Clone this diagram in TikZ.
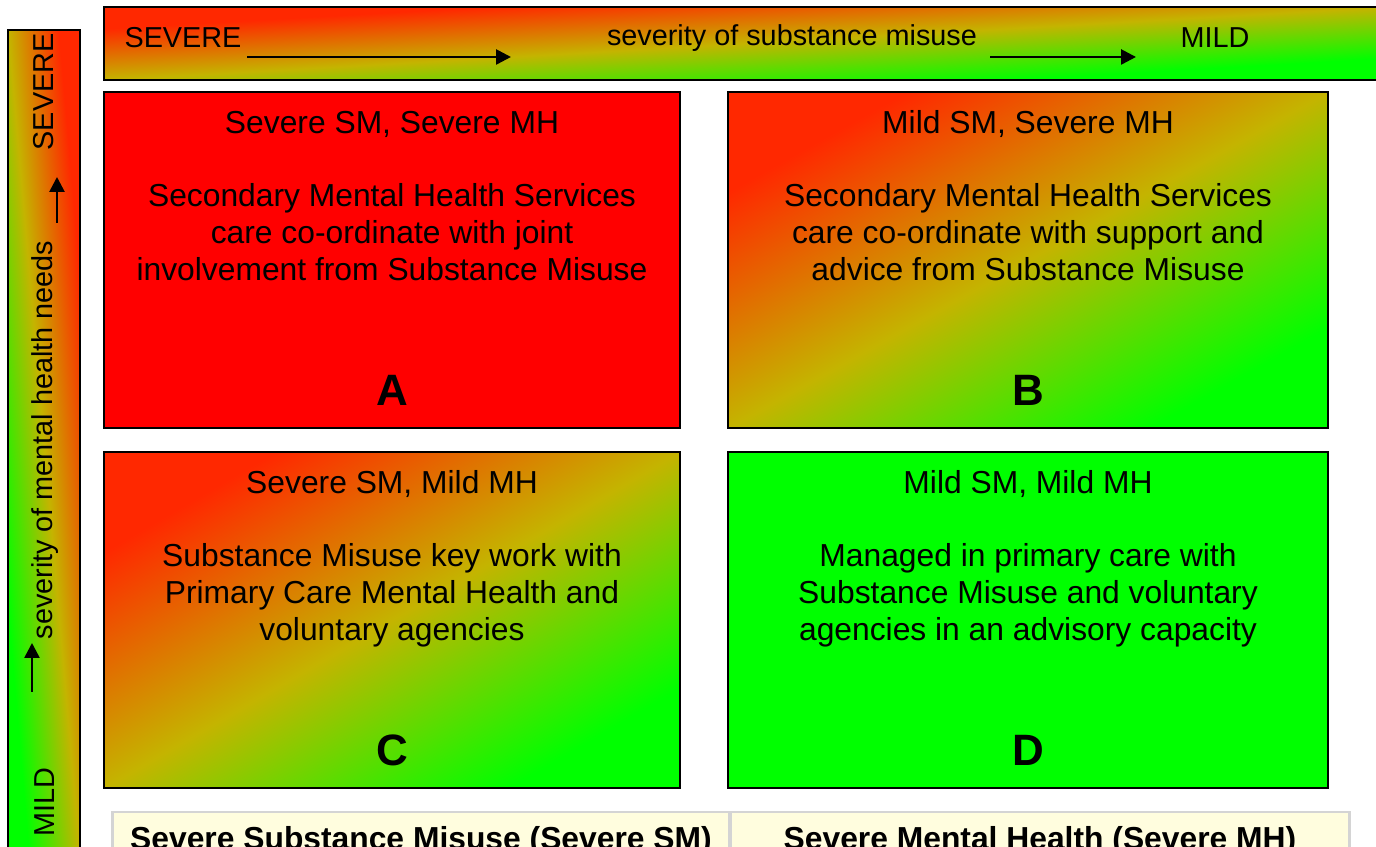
\documentclass[tikz,border=0pt]{standalone}
\usepackage{fontspec}
\setmainfont{Liberation Sans}
\usetikzlibrary{arrows.meta, positioning}

\definecolor{hotred}{RGB}{255,40,0}
\definecolor{midolive}{RGB}{196,180,0}
\definecolor{coolgreen}{RGB}{0,255,0}
\definecolor{keycream}{RGB}{255,253,222}
\definecolor{keyrule}{RGB}{212,212,212}

% red -> olive -> green, corner to corner
\pgfdeclarehorizontalshading{severity}{100bp}{color(0bp)=(coolgreen); color(25bp)=(coolgreen); color(50bp)=(midolive); color(75bp)=(hotred); color(100bp)=(hotred)}
\pgfdeclarelayer{background}
\pgfsetlayers{background,main}

% stretch a 1cm square of the shading over a node: node, width, height, angle
\newcommand{\severityshade}[4]{%
    \begin{pgfonlayer}{background}
        \begin{scope}[transform canvas={shift={(#1.south west)}, xscale=#2, yscale=#3}]
            \shade[shading=severity, shading angle=#4] (0cm,0cm) rectangle (1cm,1cm);
        \end{scope}
    \end{pgfonlayer}}

\tikzset{
    quad/.style={draw=black, line width=1.1pt, minimum height=6.72cm, inner sep=0pt, outer sep=0pt},
    bar/.style={draw=black, line width=1.1pt, inner sep=0pt, outer sep=0pt},
    head/.style={font=\fontsize{18.1}{21.7}\selectfont},
    body/.style={font=\fontsize{18.1}{21}\selectfont, align=center},
    letter/.style={font=\fontsize{25}{30}\selectfont\bfseries},
    axis/.style={font=\fontsize{16.4}{19}\selectfont, inner sep=0pt},
    scalearrow/.style={line width=1.5pt, -{Triangle[length=0.3cm,width=0.3cm]}},
    keycell/.style={draw=keyrule, line width=1.7pt, fill=keycream, minimum height=1.16cm, inner sep=0pt, font=\fontsize{18.1}{21.7}\selectfont\bfseries}
}

\begin{document}
\begin{tikzpicture}[x=0.02cm, y=0.02cm]
        \clip (0,0) rectangle (1376,847);

        % severity scales
        \node[bar, minimum width=25.62cm, minimum height=1.46cm] (smbar) at (744.5,803.5) {};
        \severityshade{smbar}{25.62}{1.46}{135}
        \node[bar, minimum width=1.44cm, minimum height=16.6cm] (mhbar) at (44,402) {};
        \severityshade{mhbar}{1.44}{16.6}{45}

        \node[axis] (sm_hi) at (183,809) {SEVERE};
        \node[axis] (sm_lab) at (792,809) {severity of substance misuse};
        \node[axis] (sm_lo) at (1215,809) {MILD};
        \coordinate (sm_a1) at (247,790);
        \coordinate (sm_b1) at (511,790);
        \coordinate (sm_a2) at (990,790);
        \coordinate (sm_b2) at (1136,790);
        \draw[scalearrow] (sm_a1) -- (sm_b1);
        \draw[scalearrow] (sm_a2) -- (sm_b2);

        \node[axis, rotate=90] (mh_lo) at (45,45) {MILD};
        \node[axis, rotate=90] (mh_lab) at (45,407) {severity of mental health needs};
        \node[axis, rotate=90] (mh_hi) at (44,755) {SEVERE};
        \coordinate (mh_a1) at (32,155);
        \coordinate (mh_b1) at (32,204);
        \coordinate (mh_a2) at (57,624);
        \coordinate (mh_b2) at (57,670);
        \draw[scalearrow] (mh_a1) -- (mh_b1);
        \draw[scalearrow] (mh_a2) -- (mh_b2);

        % the four quadrants
        \node[quad, fill=red, minimum width=11.52cm] (qa) at (392,587) {};
        \node[quad, minimum width=12cm] (qb) at (1028,587) {};
        \severityshade{qb}{12}{6.72}{135}
        \node[quad, minimum width=11.52cm] (qc) at (392,227) {};
        \severityshade{qc}{11.52}{6.72}{135}
        \node[quad, fill=coolgreen, minimum width=12cm] (qd) at (1028,227) {};

        \node[head] at ([yshift=-0.64cm]qa.north) {Severe SM, Severe MH};
        \node[body] at ([yshift=-2.8cm]qa.north) {Secondary Mental Health Services\\care co-ordinate with joint\\involvement from Substance Misuse};
        \node[letter] at ([yshift=0.76cm]qa.south) {A};

        \node[head] at ([yshift=-0.64cm]qb.north) {Mild SM, Severe MH};
        \node[body] at ([yshift=-2.8cm]qb.north) {Secondary Mental Health Services\\care co-ordinate with support and\\advice from Substance Misuse};
        \node[letter] at ([yshift=0.76cm]qb.south) {B};

        \node[head] at ([yshift=-0.64cm]qc.north) {Severe SM, Mild MH};
        \node[body] at ([yshift=-2.86cm]qc.north) {Substance Misuse key work with\\Primary Care Mental Health and\\voluntary agencies};
        \node[letter] at ([yshift=0.76cm]qc.south) {C};

        \node[head] at ([yshift=-0.64cm]qd.north) {Mild SM, Mild MH};
        \node[body] at ([yshift=-2.86cm]qd.north) {Managed in primary care with\\Substance Misuse and voluntary\\agencies in an advisory capacity};
        \node[letter] at ([yshift=0.76cm]qd.south) {D};

        % key below
        \node[keycell, minimum width=12.36cm] (key_sm) at (421,6) {Severe Substance Misuse (Severe SM)};
        \node[keycell, minimum width=12.4cm] (key_mh) at (1040,6) {Severe Mental Health (Severe MH)};
    \end{tikzpicture}
\end{document}
